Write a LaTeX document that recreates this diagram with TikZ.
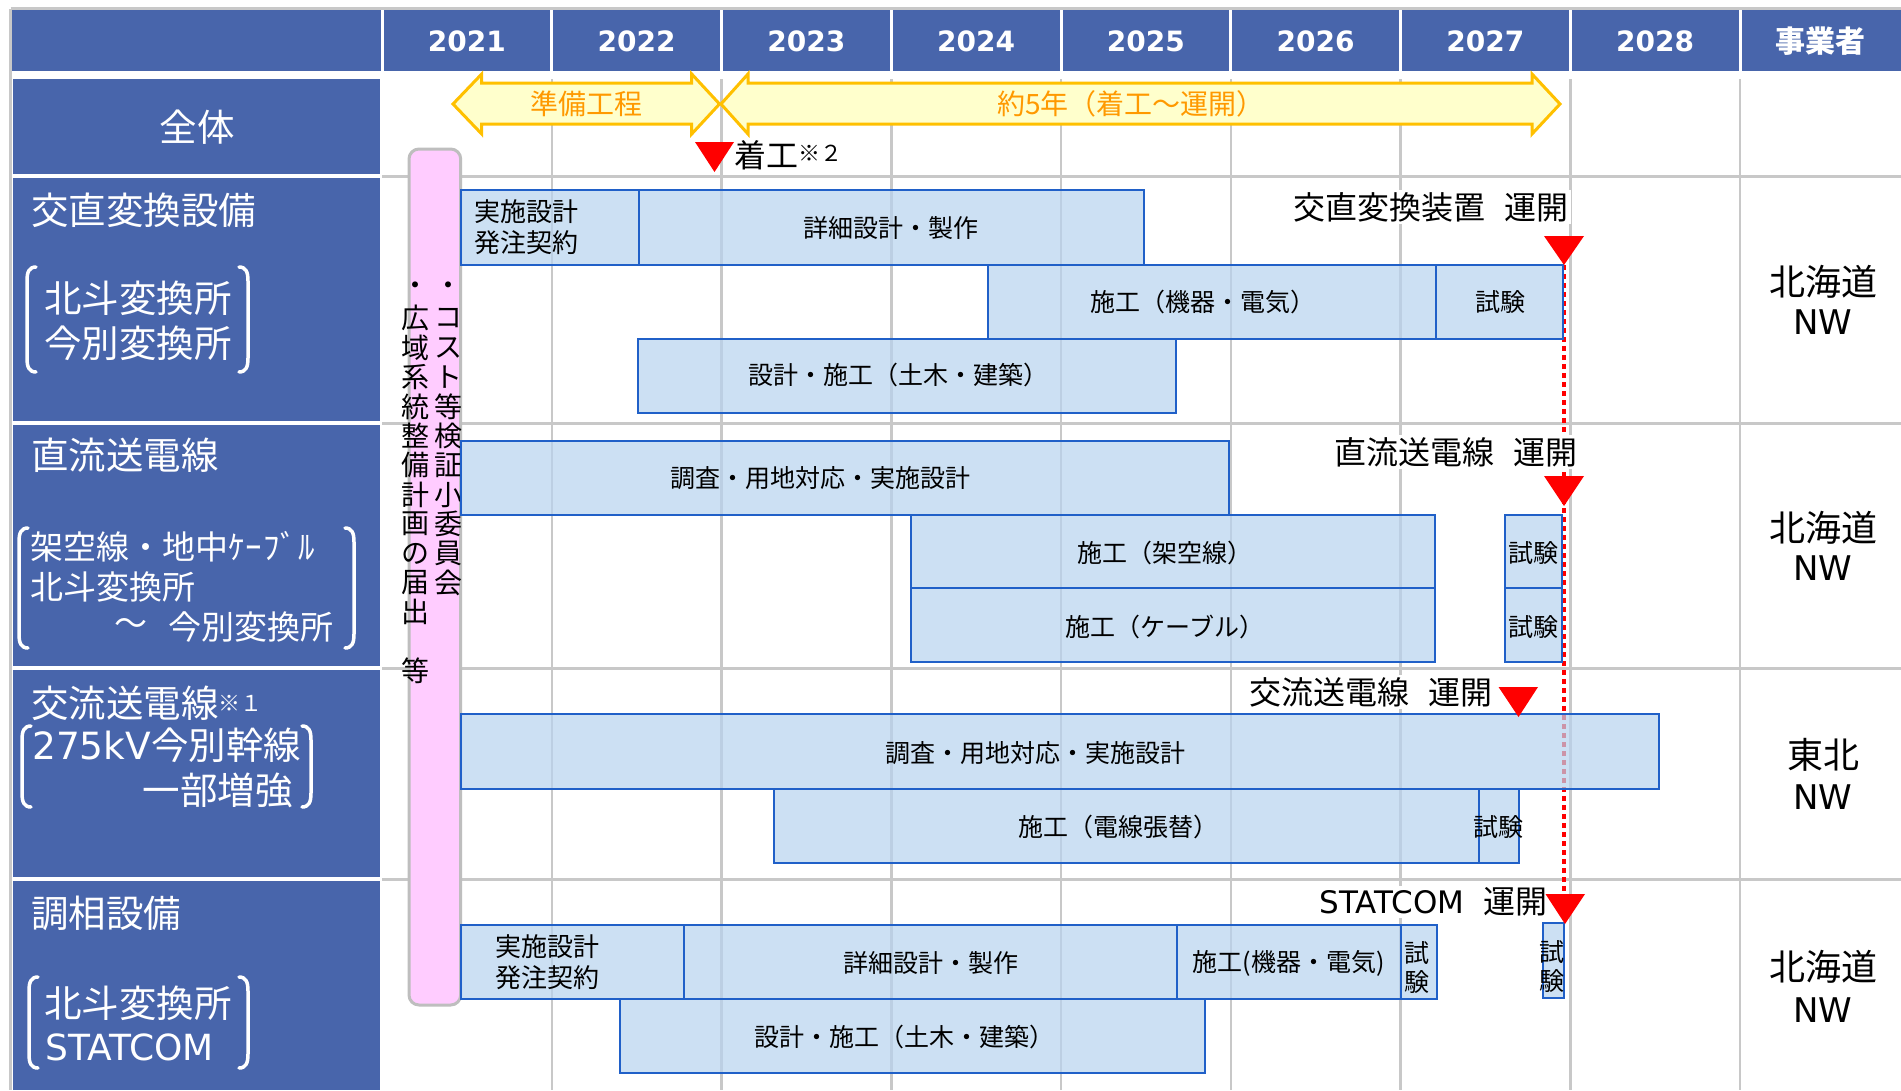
\documentclass[tikz,border=0pt]{standalone}
\usepackage{fontspec}
\setmainfont{Noto Sans CJK JP}
\newfontfamily\latf{DejaVu Sans}
\definecolor{hdrblue}{RGB}{72,101,171}
\definecolor{gridgray}{RGB}{200,200,200}
\definecolor{barfill}{RGB}{183,211,239}
\definecolor{barline}{RGB}{32,96,200}
\definecolor{pinkfill}{RGB}{255,204,255}
\definecolor{pinkline}{RGB}{190,190,190}
\definecolor{arrfill}{RGB}{255,255,204}
\definecolor{arrline}{RGB}{255,192,0}
\definecolor{arrtext}{RGB}{255,153,0}
\newcommand\fsz[2]{\fontsize{#1}{#2}\selectfont}
\newcommand\lbrk[3]{\draw[brk] ({#1+9},#2) .. controls ({#1+2},#2) and (#1,{#2+5}) .. (#1,{#2+14}) -- (#1,{#3-14}) .. controls (#1,{#3-5}) and ({#1+2},#3) .. ({#1+9},#3);}
\newcommand\rbrk[3]{\draw[brk] ({#1-9},#2) .. controls ({#1-2},#2) and (#1,{#2+5}) .. (#1,{#2+14}) -- (#1,{#3-14}) .. controls (#1,{#3-5}) and ({#1-2},#3) .. ({#1-9},#3);}
\begin{document}
\begin{tikzpicture}[x=1pt,y=-1pt,
  hdr/.style={text=white,inner sep=0,font=\latf\bfseries\fsz{28}{34}},
  lbl/.style={text=white,inner sep=0,anchor=west,font=\fsz{37.5}{44}},
  sub/.style={text=white,inner sep=0,anchor=west,font=\fsz{33}{40}},
  brk/.style={white,line width=3.5,line cap=round},
  gline/.style={gridgray,line width=2.5},
  bar/.style={draw=barline,line width=2,fill=barfill,fill opacity=0.7},
  btxt/.style={inner sep=0,text=black,font=\fsz{25}{31},align=center},
  vch/.style={inner sep=0,text=black,font=\fsz{28}{28}},
  ann/.style={fill=white,inner sep=2,text=black,font=\fsz{32}{38}},
  arr/.style={draw=arrline,fill=arrfill,line width=3,line join=miter},
  arrt/.style={inner sep=0,text=arrtext,font=\fsz{28}{34}},
  own/.style={inner sep=0,text=black,font=\fsz{36}{44}},
  redmark/.style={fill=red}
]
\useasboundingbox (0,0) rectangle (1901,1090);
\fill[white] (0,0) rectangle (1901,1090);

% outer border
\draw[gridgray,line width=3] (10.5,8.5) -- (1901,8.5);
\draw[gridgray,line width=3] (10.5,8.5) -- (10.5,1090);

% grid lines
\foreach \k in {1,...,8} \draw[gline] ({382+169.75*\k},79) -- ({382+169.75*\k},1090);
\foreach \yy in {176,423,668,879} \draw[gridgray,line width=3] (382,\yy) -- (1901,\yy);

% header
\fill[hdrblue] (12,10) rectangle (1901,71);
\foreach \k in {0,...,8} \draw[white,line width=3] ({382+169.75*\k},10) -- ({382+169.75*\k},71);
\foreach \yr [count=\k from 0] in {2021,...,2028}
  \node[hdr] (yr\yr) at ({382+169.75*\k+84.9},41) {\yr};
\node[hdr,font=\bfseries\fsz{30}{36}] (jigyo) at (1820.5,41) {事業者};

% label boxes
\fill[hdrblue] (13,79) rectangle (380,174);
\fill[hdrblue] (13,178) rectangle (380,421);
\fill[hdrblue] (13,425) rectangle (380,666);
\fill[hdrblue] (13,670) rectangle (380,877);
\fill[hdrblue] (13,881) rectangle (380,1090);

% label texts
\node[lbl,anchor=center] (zentai) at (197,127) {全体};
\node[lbl] (l1) at (31,210) {交直変換設備};
\node[lbl] (l1a) at (44,298) {北斗変換所};
\node[lbl] (l1b) at (44,343) {今別変換所};
\lbrk{27}{267}{372}\rbrk{248}{267}{372}

\node[lbl] (l2) at (31,455) {直流送電線};
\node[sub] (l2a) at (30,547) {架空線・地中ｹ\kern1ptｰ\kern1ptﾌ\kern1ptﾞ\kern1ptﾙ};
\node[sub] (l2b) at (30,587) {北斗変換所};
\node[sub,anchor=center] (l2c) at (131,627) {～};
\node[sub] (l2d) at (168,627) {今別変換所};
\lbrk{19}{528}{648}\rbrk{354}{528}{648}

\node[lbl] (l3) at (31,703) {交流送電線{\fsz{22}{26}\raisebox{6pt}{※１}}};
\node[lbl] (l3a) at (32,745) {{\latf 275kV}今別幹線};
\node[lbl,anchor=east] (l3b) at (293,790) {一部増強};
\lbrk{22}{726}{807}\rbrk{311}{726}{807}

\node[lbl] (l4) at (31,913) {調相設備};
\node[lbl] (l4a) at (44,1003) {北斗変換所};
\node[lbl] (l4b) at (45,1047) {\latf\fsz{36}{44}STATCOM};
\lbrk{29}{977}{1068}\rbrk{248}{977}{1068}

% owner column
\node[own] (o1a) at (1823,282) {北海道};
\node[own] (o1b) at (1823,322) {\latf\fsz{34}{40}NW};
\node[own] (o2a) at (1823,528) {北海道};
\node[own] (o2b) at (1823,568) {\latf\fsz{34}{40}NW};
\node[own] (o3a) at (1823,755) {東北};
\node[own] (o3b) at (1823,797) {\latf\fsz{34}{40}NW};
\node[own] (o4a) at (1823,967) {北海道};
\node[own] (o4b) at (1823,1010) {\latf\fsz{34}{40}NW};

% overall arrows
\draw[arr] (453,104) -- (481.7,74) -- (481.7,83) -- (691.7,83) -- (691.7,74) -- (719.5,104) -- (691.7,134) -- (691.7,124) -- (481.7,124) -- (481.7,134) -- cycle;
\draw[arr] (721,104) -- (748,74) -- (748,83) -- (1532,83) -- (1532,74) -- (1560,104) -- (1532,134) -- (1532,124) -- (748,124) -- (748,134) -- cycle;
\node[arrt] (junbi) at (586,104) {準備工程};
\node[arrt] (yaku) at (1131,104) {約5年（着工～運開）};

% start marker
\fill[redmark] (695,142) -- (734,142) -- (714.5,172) -- cycle;
\node[inner sep=0,anchor=west,font=\fsz{32}{38}] (chako) at (734,155) {着工{\fsz{22}{26}\raisebox{6pt}{※２}}};

% operation markers and dotted line
\coordinate (t1tip) at (1564,265);
\coordinate (t4top) at (1564,894);
\draw[red,line width=3.5,dash pattern=on 5pt off 4pt] (t1tip) -- (t4top);

% pink bar
\draw[pinkline,fill=pinkfill,line width=3,rounded corners=10] (409,149) rectangle (460.7,1005);
\foreach \i/\c in {0/・,1/広,2/域,3/系,4/統,5/整,6/備,7/計,8/画,9/の,10/届,11/出,13/等}
  \node[vch] (pl\i) at (415,{289+29.4*\i}) {\c};
\foreach \i/\c in {0/・,1/コ,2/ス,3/ト,4/等,5/検,6/証,7/小,8/委,9/員,10/会}
  \node[vch] (pr\i) at (448.5,{289+29.4*\i}) {\c};

% bars row 1
\path[bar] (460.6,190) rectangle (639,265);
\path[bar] (639,190) rectangle (1144,265);
\path[bar] (987.6,265) rectangle (1436,339);
\path[bar] (1436,265) rectangle (1563,339);
\path[bar] (637.6,339) rectangle (1176,412.7);
\node[btxt,font=\fsz{26}{31}] (b1) at (526,227.5) {実施設計\\発注契約};
\node[btxt] (b2) at (891,228) {詳細設計・製作};
\node[btxt] (b3) at (1203,302) {施工（機器・電気）};
\node[btxt] (b4) at (1500,302) {試験};
\node[btxt] (b5) at (898,375) {設計・施工（土木・建築）};

% bars row 2
\path[bar] (460.6,440.7) rectangle (1229,515);
\path[bar] (911,515) rectangle (1435,588);
\path[bar] (911,588) rectangle (1435,662);
\path[bar] (1504.5,515) rectangle (1562,588);
\path[bar] (1504.5,588) rectangle (1562,662);
\node[btxt] (b6) at (820,478) {調査・用地対応・実施設計};
\node[btxt] (b7) at (1165,553) {施工（架空線）};
\node[btxt] (b8) at (1165,627) {施工（ケーブル）};
\node[btxt] (b9) at (1533,553) {試験};
\node[btxt] (b10) at (1533,627) {試験};

% bars row 3
\path[bar] (460.6,714) rectangle (1659,789);
\path[bar] (774,789) rectangle (1478.5,863);
\path[bar] (1478.5,789) rectangle (1518.5,863);
\node[btxt] (b11) at (1035.5,753) {調査・用地対応・実施設計};
\node[btxt] (b12) at (1118.5,827) {施工（電線張替）};
\node[btxt] (b13) at (1498,827) {試験};

% bars row 4
\path[bar] (460.6,925) rectangle (683.6,999);
\path[bar] (683.6,925) rectangle (1177,999);
\path[bar] (1177,925) rectangle (1400.5,999);
\path[bar] (1400.5,925) rectangle (1436.7,999);
\path[bar] (620,999) rectangle (1204.5,1073);
\path[bar] (1543,923) rectangle (1564,998);
\node[btxt,font=\fsz{26}{31}] (b14) at (547,962.5) {実施設計\\発注契約};
\node[btxt] (b15) at (931,963) {詳細設計・製作};
\node[btxt] (b16) at (1288.5,963) {施工(機器・電気)};
\node[btxt,font=\fsz{25}{29}] (b17) at (1417,967.5) {試\\験};
\node[btxt] (b18) at (904,1037) {設計・施工（土木・建築）};
\node[btxt,font=\fsz{25}{29}] (b19) at (1552,966.5) {試\\験};

% annotations
\node[ann,anchor=east] (a1) at (1571,207) {交直変換装置\hspace{0.6em}運開};
\node[ann,anchor=east] (a2) at (1580,452) {直流送電線\hspace{0.6em}運開};
\node[ann,anchor=east] (a3) at (1495,692) {交流送電線\hspace{0.6em}運開};
\node[ann,anchor=east] (a4) at (1550,902) {{\latf\fsz{31}{36}STATCOM}\hspace{0.6em}運開};

\fill[redmark] (1544,236) -- (1584,236) -- (1564,265) -- cycle;
\fill[redmark] (1544,476) -- (1584,476) -- (1564,506) -- cycle;
\fill[redmark] (1498.5,687) -- (1538,687) -- (1518.5,717) -- cycle;
\fill[redmark] (1545.5,894) -- (1585,894) -- (1565,924) -- cycle;
\end{tikzpicture}
\end{document}
